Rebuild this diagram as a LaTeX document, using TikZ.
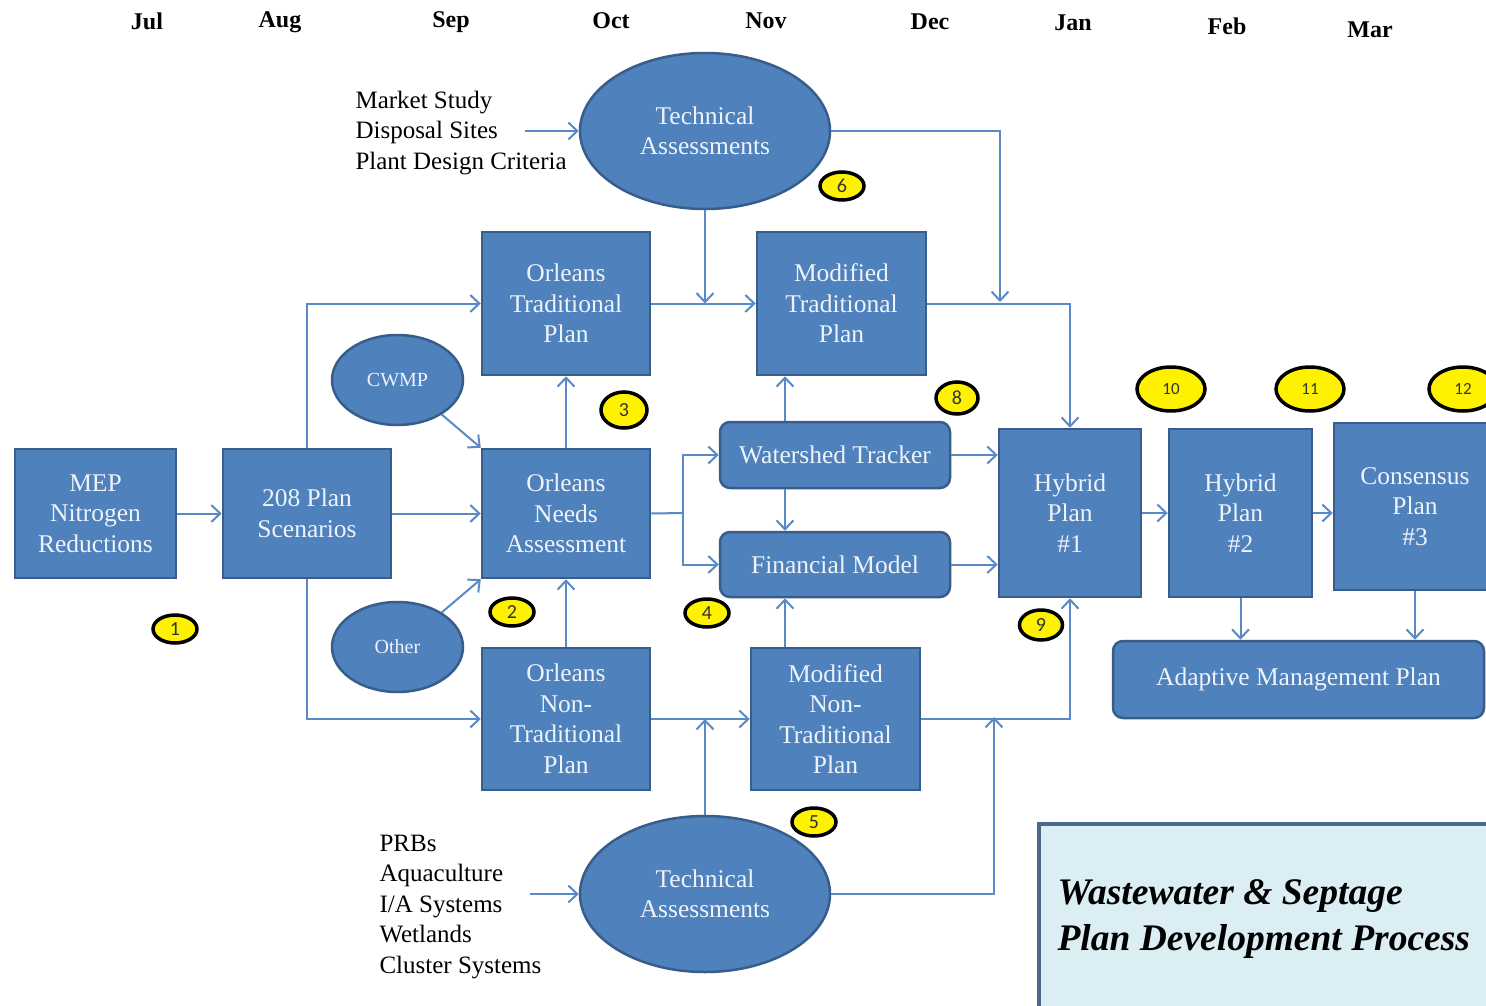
\documentclass[tikz,border=0pt]{standalone}
\usepackage{fontspec}
\setmainfont{Liberation Serif}
\newfontfamily\badgefont{Carlito}
\usetikzlibrary{arrows.meta,shapes.geometric}
\definecolor{boxfill}{HTML}{4F81BD}
\definecolor{boxline}{HTML}{385D8A}
\definecolor{linecol}{HTML}{5A8AC6}
\definecolor{boxtext}{HTML}{EEF3FA}
\definecolor{titlefill}{HTML}{DBEEF4}
\definecolor{titleline}{HTML}{4A6A8C}
\begin{document}
\begin{tikzpicture}[x=1pt,y=-1pt,
  blk/.style={draw=boxline, fill=boxfill, line width=2.5pt, text=boxtext, align=center, font=\fontsize{25.5}{30.5}\selectfont, inner sep=0pt},
  sq/.style={blk, rectangle},
  rnd/.style={blk, rectangle, rounded corners=10pt},
  ell/.style={blk, ellipse},
  badge/.style={ellipse, draw=black, fill=yellow, line width=3.5pt, inner sep=0pt, text=black!80, font=\badgefont\fontsize{20}{20}\selectfont},
  bigbadge/.style={badge, minimum width=68, minimum height=44, font=\badgefont\fontsize{17}{17}\selectfont},
  arr/.style={draw=linecol, line width=2pt, -{Straight Barb[length=9pt,width=17pt]}},
  plainline/.style={draw=linecol, line width=2pt},
  month/.style={font=\bfseries\fontsize{24}{24}\selectfont},
  listtext/.style={anchor=west, align=left, font=\fontsize{25}{30.5}\selectfont},
  ]
\fill[white] (0,0) rectangle (1486,1006);
\useasboundingbox (0,0) rectangle (1486,1006);

% months
\node[month] (mjul) at (147,21) {Jul};
\node[month] (maug) at (280,22) {Aug};
\node[month] (msep) at (451,22) {Sep};
\node[month] (moct) at (611,21) {Oct};
\node[month] (mnov) at (766,21) {Nov};
\node[month] (mdec) at (930,22) {Dec};
\node[month] (mjan) at (1073,23) {Jan};
\node[month] (mfeb) at (1227,26) {Feb};
\node[month] (mmar) at (1370,30) {Mar};

% title box
\node[draw=titleline, fill=titlefill, line width=4pt, minimum width=480, minimum height=210, anchor=north west, inner sep=0pt] (tbox) at (1037,822) {};
\node[anchor=west, align=left, font=\bfseries\itshape\fontsize{37.5}{46}\selectfont] (ttext) at (1054,919) {Wastewater \& Septage\\Plan Development Process};

% boxes
\node[sq, minimum width=161, minimum height=129] (mep) at (95.5,513.5) {MEP\\Nitrogen\\Reductions};
\node[sq, minimum width=168, minimum height=129] (s208) at (307,513.5) {208 Plan\\Scenarios};
\node[sq, minimum width=168, minimum height=143] (otrad) at (566,303.5) {Orleans\\Traditional\\Plan};
\node[sq, minimum width=168, minimum height=129] (needs) at (566,513.5) {Orleans\\Needs\\Assessment};
\node[sq, minimum width=168, minimum height=142] (onon) at (566,719) {Orleans\\Non-\\Traditional\\Plan};
\node[sq, minimum width=169, minimum height=143] (mtrad) at (841.5,303.5) {Modified\\Traditional\\Plan};
\node[sq, minimum width=169, minimum height=142] (mnon) at (835.5,719) {Modified\\Non-\\Traditional\\Plan};
\node[rnd, minimum width=230, minimum height=66] (wt) at (835,455) {Watershed Tracker};
\node[rnd, minimum width=230, minimum height=65] (fm) at (835,564.5) {Financial Model};
\node[sq, minimum width=142, minimum height=168] (h1) at (1070,513) {Hybrid\\Plan\\\#1};
\node[sq, minimum width=143, minimum height=168] (h2) at (1240.5,513) {Hybrid\\Plan\\\#2};
\node[sq, minimum width=162, minimum height=167] (cons) at (1415,506.5) {Consensus\\Plan\\\#3};
\node[rnd, minimum width=371, minimum height=77] (amp) at (1298.5,679.5) {Adaptive Management Plan};

% ellipses
\node[ell, minimum width=250, minimum height=156] (tech1) at (705,131) {Technical\\Assessments};
\node[ell, minimum width=250, minimum height=156] (tech2) at (705,894) {Technical\\Assessments};
\node[ell, minimum width=131, minimum height=90, font=\fontsize{20}{20}\selectfont] (cwmp) at (397.5,380) {CWMP};
\node[ell, minimum width=131, minimum height=90, font=\fontsize{20}{20}\selectfont] (other) at (397.5,647) {Other};

% input lists
\node[listtext] (lbl1) at (352,133) {Market Study\\Disposal Sites\\Plant Design Criteria};
\node[listtext] (lbl2) at (376,907) {PRBs\\Aquaculture\\I/A Systems\\Wetlands\\Cluster Systems};

% badges
\node[badge, minimum width=44, minimum height=28] (b1) at (175,629) {1};
\node[badge, minimum width=44, minimum height=28] (b2) at (512,612) {2};
\node[badge, minimum width=46, minimum height=36] (b3) at (624,410) {3};
\node[badge, minimum width=44, minimum height=28] (b4) at (707,613) {4};
\node[badge, minimum width=44, minimum height=28] (b5) at (814,822) {5};
\node[badge, minimum width=44, minimum height=28] (b6) at (842,186) {6};
\node[badge, minimum width=42, minimum height=32] (b8) at (957,398) {8};
\node[badge, minimum width=43, minimum height=30] (b9) at (1041,625) {9};
\node[bigbadge] (b10) at (1171,389) {10};
\node[bigbadge] (b11) at (1310,389) {11};
\node[bigbadge] (b12) at (1463,389) {12};

% helper coordinates
\coordinate (j1) at (683,513);
\coordinate (x785) at (785,0);
\coordinate (m1) at (525,131);
\coordinate (m2) at (530,894);
\coordinate (c1) at (1000,302);
\coordinate (c2) at (994,717);

% connectors
\draw[arr] (mep.east) -- (s208.west);
\draw[arr] (s208.east) -- (needs.west);
\draw[arr] (s208.north) |- (otrad.west);
\draw[arr] (s208.south) |- (onon.west);
\draw[arr] (cwmp.-38) -- (needs.north west);
\draw[arr] (other.38) -- (needs.south west);
\draw[arr] (needs.north) -- (otrad.south);
\draw[arr] (onon.north) -- (needs.south);
\draw[arr] (otrad.east) -- (mtrad.west);
\draw[arr] (onon.east) -- (mnon.west);
\draw[arr] (tech1.south) -- (tech1.south |- otrad.east);
\draw[arr] (tech2.north) -- (tech2.north |- onon.east);
\draw[plainline] (needs.east) -- (j1);
\draw[arr] (j1) |- (wt.west);
\draw[arr] (j1) |- (fm.west);
\draw[arr] (wt.north -| x785) -- (mtrad.south -| x785);
\draw[arr] (wt.south -| x785) -- (fm.north -| x785);
\draw[arr] (mnon.north -| x785) -- (fm.south -| x785);
\draw[arr] (wt.east) -- (wt.east -| h1.west);
\draw[arr] (fm.east) -- (fm.east -| h1.west);
\draw[arr] (mtrad.east) -| (h1.north);
\draw[arr] (mnon.east) -| (h1.south);
\draw[arr] (tech1.east) -| (c1);
\draw[arr] (tech2.east) -| (c2);
\draw[arr] (m1) -- (tech1.west);
\draw[arr] (m2) -- (tech2.west);
\draw[arr] (h1.east) -- (h2.west);
\draw[arr] (h2.east) -- (h2.east -| cons.west);
\draw[arr] (h2.south) -- (h2.south |- amp.north);
\draw[arr] (cons.south) -- (cons.south |- amp.north);
\end{tikzpicture}
\end{document}
